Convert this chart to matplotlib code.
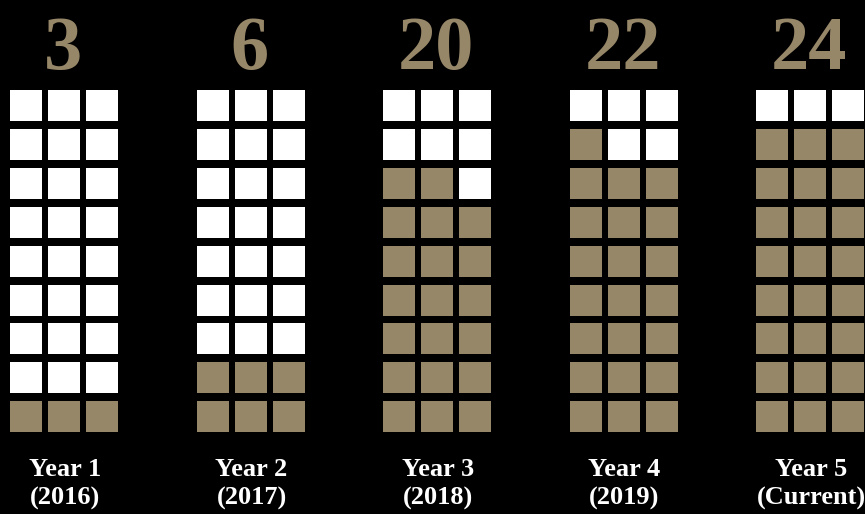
import matplotlib
matplotlib.use("Agg")
import matplotlib.pyplot as plt
import matplotlib.patches as patches

# data
years = ["Year 1\n(2016)", "Year 2\n(2017)", "Year 3\n(2018)", "Year 4\n(2019)", "Year 5\n(Current)"]
counts = [3, 6, 20, 22, 24]
n_cols = 3
n_rows = 9

tan = "#978769"
bg = "#000000"

# layout in pixels
W, H = 865, 514
left0 = 10
group_step = 186.5
cell_w, cell_h = 32, 31
step_x, step_y = 38, 38.9
top0 = 90

fig = plt.figure(figsize=(W / 100, H / 100), dpi=100, facecolor=bg)
ax = fig.add_axes([0, 0, 1, 1])
ax.set_facecolor(bg)
ax.set_xlim(0, W)
ax.set_ylim(H, 0)
ax.axis("off")

for g, (lab, cnt) in enumerate(zip(years, counts)):
    gx = left0 + g * group_step
    for r in range(n_rows):          # r = 0 is the bottom row
        for c in range(n_cols):
            idx = r * n_cols + c
            col = tan if idx < cnt else "white"
            y = top0 + (n_rows - 1 - r) * step_y
            ax.add_patch(patches.Rectangle((gx + c * step_x, y), cell_w, cell_h,
                                           facecolor=col, edgecolor="none"))
    cx = gx + ((n_cols - 1) * step_x + cell_w) / 2
    ax.text(cx - 1, 69, str(cnt), color=tan, fontsize=55, fontweight="bold",
            family="Liberation Serif", ha="center", va="baseline")
    line1, line2 = lab.split("\n")
    ax.text(cx + 1, 476, line1, color="white", fontsize=19, fontweight="bold",
            family="Liberation Serif", ha="center", va="baseline")
    ax.text(cx + 1, 505, line2, color="white", fontsize=19, fontweight="bold",
            family="Liberation Serif", ha="center", va="baseline")

fig.savefig("out.png", dpi=100, facecolor=bg)
